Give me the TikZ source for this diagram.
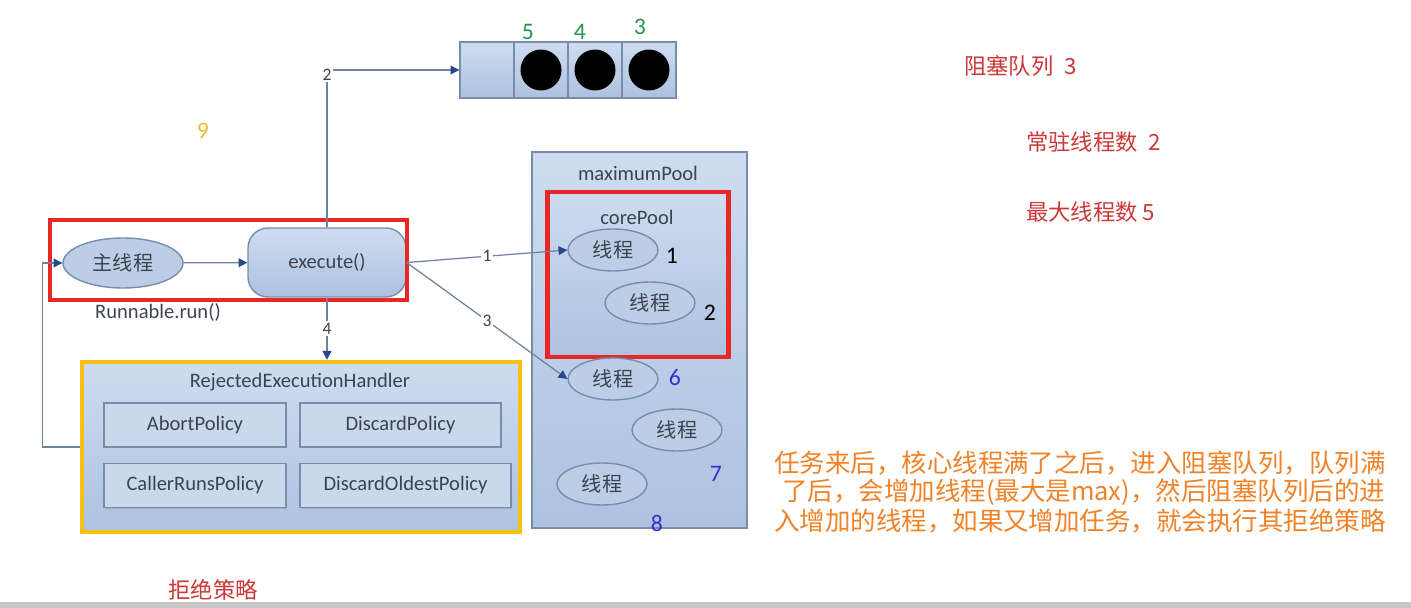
\documentclass[tikz,border=0pt]{standalone}
\usepackage{fontspec}
\setmainfont{Carlito}
\newfontfamily\cjk{Noto Sans CJK SC}
\usetikzlibrary{arrows.meta,shapes.geometric,shadows}
\definecolor{poolfill}{RGB}{188,206,230}
\definecolor{pooltop}{RGB}{206,220,240}
\definecolor{poolbot}{RGB}{172,194,224}
\definecolor{poolline}{RGB}{120,140,172}
\definecolor{framered}{RGB}{232,40,36}
\definecolor{frameyellow}{RGB}{248,192,20}
\definecolor{flowline}{RGB}{110,130,160}
\definecolor{tipblue}{RGB}{40,70,140}
\definecolor{labelgray}{RGB}{62,67,80}
\definecolor{notered}{RGB}{205,55,55}
\definecolor{noteorange}{RGB}{240,130,40}
\definecolor{numgreen}{RGB}{40,150,80}
\definecolor{numblue}{RGB}{50,50,200}
\definecolor{numyellow}{RGB}{238,190,40}
\begin{document}
\begin{tikzpicture}[x=0.02cm,y=-0.02cm,
    pool/.style={draw=poolline,top color=pooltop,bottom color=poolbot,line width=0.8pt},
    thread/.style={ellipse,draw=poolline,fill=poolfill,line width=0.8pt,minimum width=1.8cm,minimum height=0.84cm,inner sep=0pt,text=labelgray,font=\cjk\fontsize{11.5}{13}\selectfont},
    policy/.style={draw=poolline,fill=poolfill!80!white,line width=0.9pt,minimum height=0.88cm,inner sep=0pt,text=labelgray,font=\fontsize{11.7}{14}\selectfont,drop shadow={shadow xshift=0.8pt,shadow yshift=-0.8pt,opacity=0.35}},
    redframe/.style={draw=framered,line width=2.6pt},
    flow/.style={draw=flowline,line width=0.7pt,-{Triangle[length=5pt,width=5pt,color=tipblue]}},
    lbl/.style={fill=white,inner sep=1pt,text=labelgray,font=\fontsize{10}{12}\selectfont},
    txt/.style={text=labelgray,font=\fontsize{11.7}{14}\selectfont},
    num/.style={font=\fontsize{13.5}{15}\selectfont},
    note/.style={anchor=west,text=notered,font=\cjk\fontsize{12.7}{15}\selectfont},
    remark/.style={anchor=west,text=noteorange,font=\cjk\fontsize{14.5}{17}\selectfont}]
  \useasboundingbox[fill=white] (0,0) rectangle (1411,608);
  \fill[black!22] (0,602) rectangle (1411,608);

  % blocking queue
  \foreach \x/\n in {487/0,541/1,595/2,649/3}
    \node[pool,minimum width=1.08cm,minimum height=1.12cm] (q\n) at (\x,70) {};
  \foreach \n in {1,2,3}
    \node[circle,fill=black,minimum size=0.82cm,inner sep=0pt] (d\n) at (q\n) {};
  \node[num,text=numgreen] (g5) at (528,32) {5};
  \node[num,text=numgreen] (g4) at (580,32) {4};
  \node[num,text=numgreen] (g3) at (640,27) {3};
  \node[num,text=numyellow] (nine) at (203,131) {9};

  % caller
  \node[thread,minimum width=2.4cm,minimum height=1cm] (main) at (123,263) {主线程};
  \node[pool,rounded corners=0.4cm,minimum width=3.16cm,minimum height=1.38cm,txt] (exec) at (327,262.5) {execute()};
  \node[redframe,minimum width=7.14cm,minimum height=1.6cm] (mainframe) at (228.5,260) {};
  \node[txt] (run) at (158,312) {Runnable.run()};

  % pools
  \node[pool,minimum width=4.3cm,minimum height=7.52cm] (maxpool) at (639.5,340) {};
  \node[txt] (maxlbl) at (638,173) {maximumPool};
  \node[pool,redframe,minimum width=3.62cm,minimum height=3.3cm] (corepool) at (638,274.5) {};
  \node[txt] (corelbl) at (637,217) {corePool};
  \node[thread] (t1) at (613,250) {线程};
  \node[thread] (t2) at (650,303) {线程};
  \node[thread] (t6) at (613,379) {线程};
  \node[thread] (t7) at (677,430) {线程};
  \node[thread] (t8) at (602,484) {线程};
  \node[num] (n1) at (672,256) {1};
  \node[num] (n2) at (710,313) {2};
  \node[num,text=numblue] (n6) at (675,378) {6};
  \node[num,text=numblue] (n7) at (716,474) {7};
  \node[num,text=numblue] (n8) at (657,523) {8};

  % rejection
  \node[pool,draw=frameyellow,line width=2.6pt,minimum width=8.76cm,minimum height=3.4cm] (rej) at (301,447) {};
  \node[txt] (rejlbl) at (300,382) {RejectedExecutionHandler};
  \node[policy,minimum width=3.64cm] (abort) at (195,425) {AbortPolicy};
  \node[policy,minimum width=4.02cm] (discard) at (400.5,425) {DiscardPolicy};
  \node[policy,minimum width=3.64cm] (caller) at (195,485.5) {CallerRunsPolicy};
  \node[policy,minimum width=4.22cm] (oldest) at (405.5,485.5) {DiscardOldestPolicy};

  % flows
  \draw[flow] (main) -- (exec);
  \draw[flow] (exec.north) |- node[lbl,pos=0.485] {2} (q0.west);
  \draw[flow] (exec.east) -- node[lbl] {1} (t1.west);
  \draw[flow] (exec.east) -- node[lbl] {3} (t6.west);
  \draw[flow] (exec.south) -- node[lbl] {4} (exec.south |- rej.north);
  \draw[flow] (rej.west) -- ++(-37,0) |- (main.west);

  % notes
  \node[note] (qnote) at (958,66) {阻塞队列\enspace 3};
  \node[note] (cnote) at (1020,142) {常驻线程数\enspace 2};
  \node[note] (mnote) at (1020,212) {最大线程数 5};
  \node[text=notered,font=\cjk\fontsize{12.7}{15}\selectfont] (rnote) at (213,590) {拒绝策略};
  \node[remark] (l1) at (768,463) {任务来后，核心线程满了之后，进入阻塞队列，队列满};
  \node[remark] (l2) at (776,492) {了后，会增加线程(最大是max)，然后阻塞队列后的进};
  \node[remark] (l3) at (768,521) {入增加的线程，如果又增加任务，就会执行其拒绝策略};
\end{tikzpicture}
\end{document}
